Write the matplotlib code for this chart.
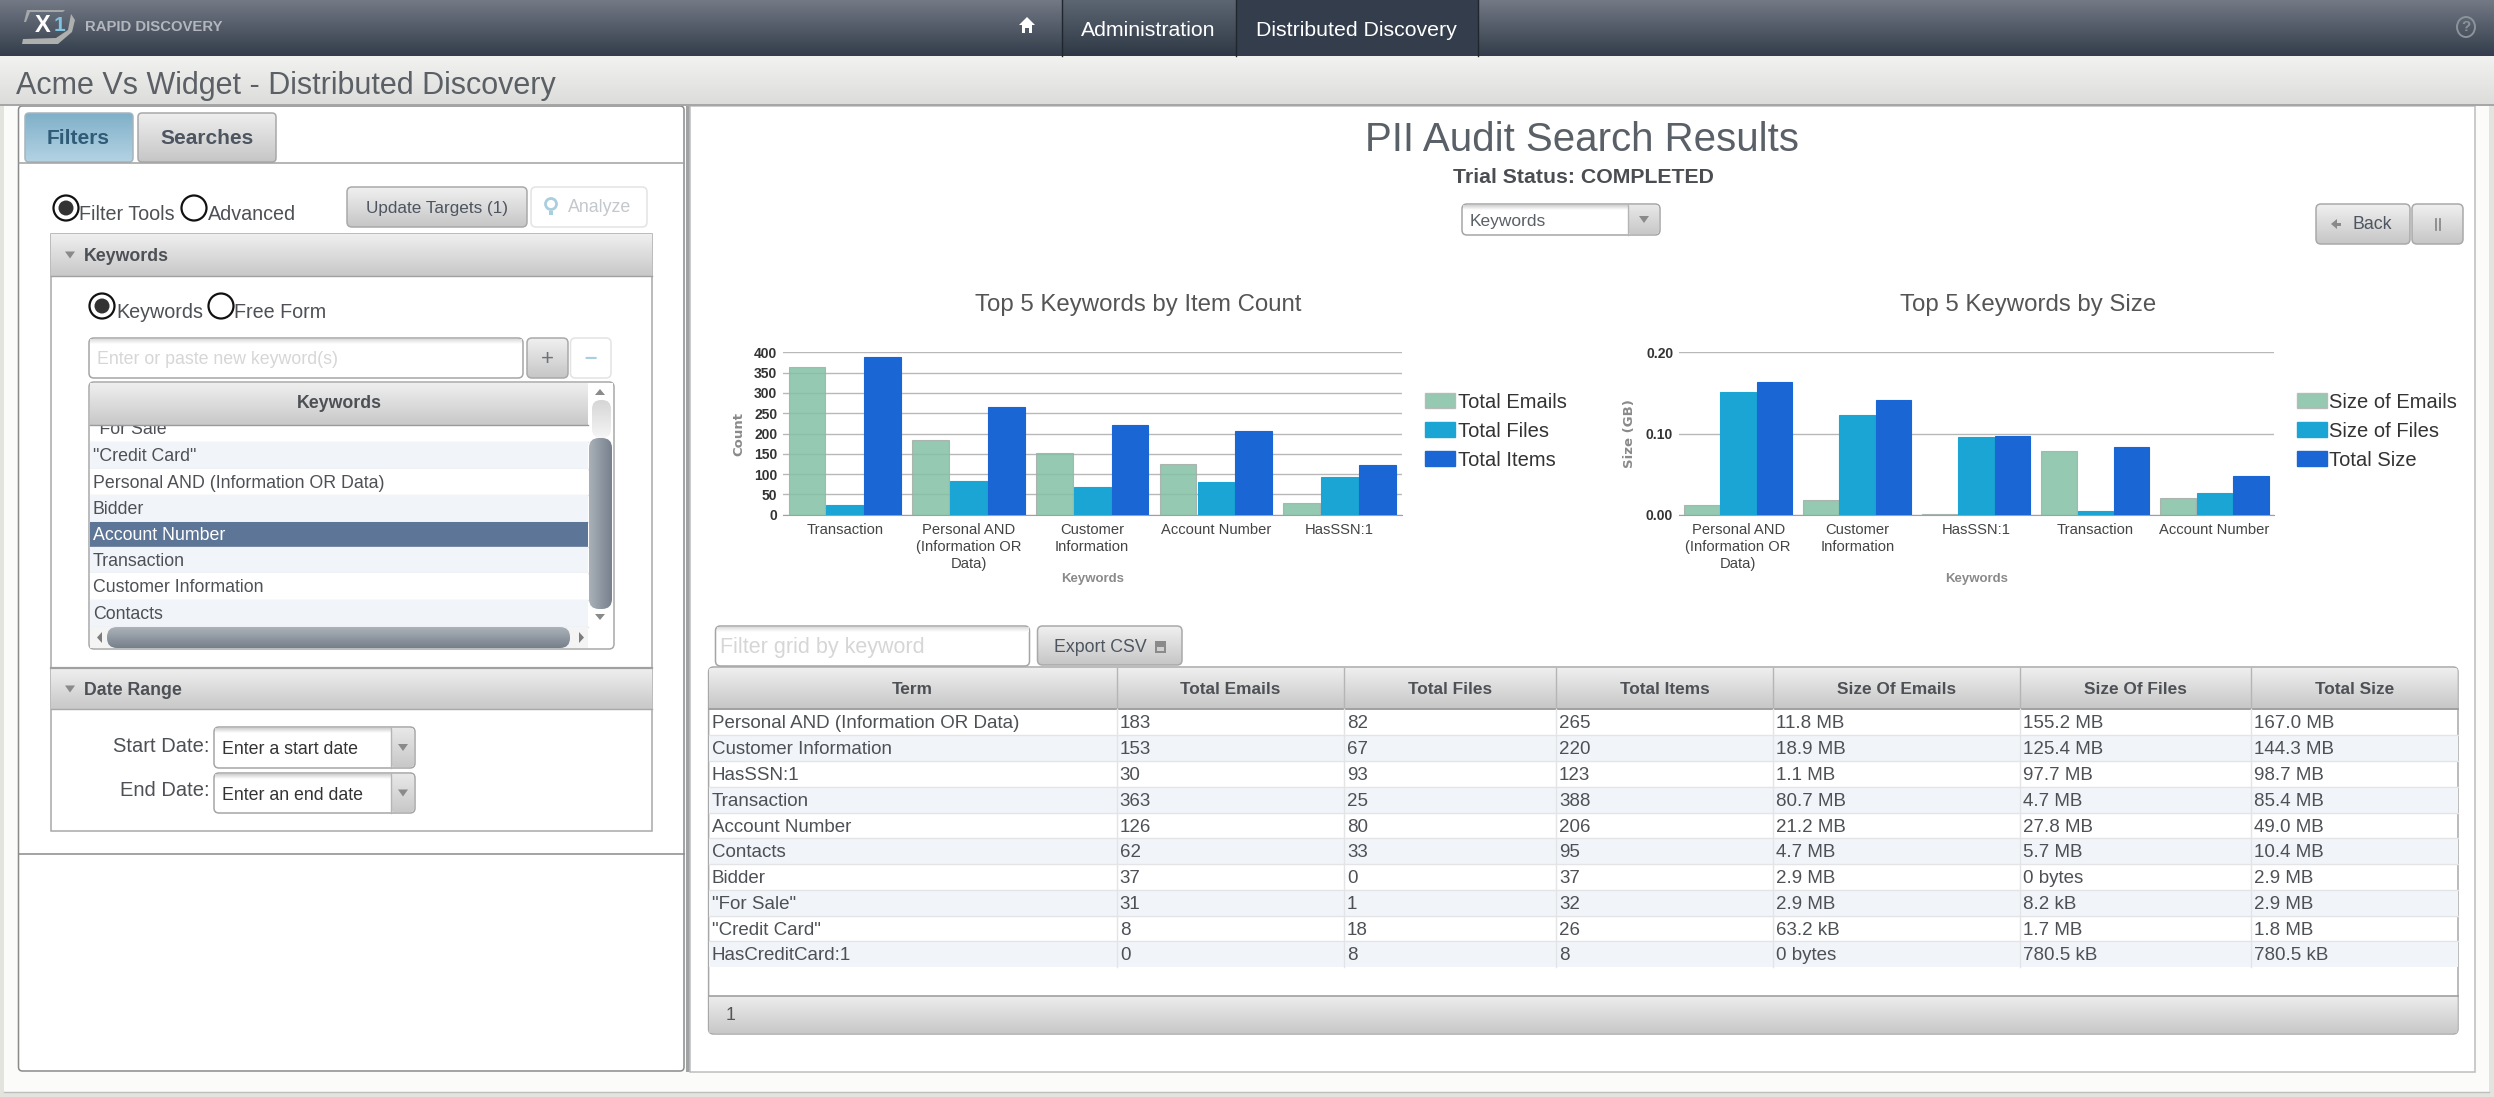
import numpy as np
import matplotlib
matplotlib.use('Agg')
import matplotlib.pyplot as plt
from matplotlib.patches import FancyBboxPatch, Rectangle, Circle, Polygon, Ellipse

plt.rcParams['font.family'] = ['Liberation Sans', 'DejaVu Sans']

W, H = 2494, 1097

# chart data
count_terms = ['Transaction', 'Personal AND\n(Information OR\nData)', 'Customer\nInformation',
               'Account Number', 'HasSSN:1']
count_emails = [363, 183, 153, 126, 30]
count_files = [25, 82, 67, 80, 93]
count_items = [388, 265, 220, 206, 123]

size_terms = ['Personal AND\n(Information OR\nData)', 'Customer\nInformation', 'HasSSN:1',
              'Transaction', 'Account Number']
size_emails = [0.0115, 0.0185, 0.0011, 0.0788, 0.0207]
size_files = [0.1516, 0.1225, 0.0954, 0.0046, 0.0271]
size_total = [0.1631, 0.1409, 0.0964, 0.0834, 0.0479]

# grid data
grid_headers = ['Term', 'Total Emails', 'Total Files', 'Total Items',
                'Size Of Emails', 'Size Of Files', 'Total Size']
grid_terms = ['Personal AND (Information OR Data)', 'Customer Information', 'HasSSN:1', 'Transaction',
              'Account Number', 'Contacts', 'Bidder', '"For Sale"', '"Credit Card"', 'HasCreditCard:1']
grid_emails = [183, 153, 30, 363, 126, 62, 37, 31, 8, 0]
grid_files = [82, 67, 93, 25, 80, 33, 0, 1, 18, 8]
grid_items = [265, 220, 123, 388, 206, 95, 37, 32, 26, 8]
grid_size_emails = ['11.8 MB', '18.9 MB', '1.1 MB', '80.7 MB', '21.2 MB', '4.7 MB', '2.9 MB', '2.9 MB',
                    '63.2 kB', '0 bytes']
grid_size_files = ['155.2 MB', '125.4 MB', '97.7 MB', '4.7 MB', '27.8 MB', '5.7 MB', '0 bytes', '8.2 kB',
                   '1.7 MB', '780.5 kB']
grid_size_total = ['167.0 MB', '144.3 MB', '98.7 MB', '85.4 MB', '49.0 MB', '10.4 MB', '2.9 MB', '2.9 MB',
                   '1.8 MB', '780.5 kB']

keyword_rows = ['"For Sale"', '"Credit Card"', 'Personal AND (Information OR Data)', 'Bidder',
                'Account Number', 'Transaction', 'Customer Information', 'Contacts']

GREEN = '#84c1a5'
BLUE = '#1aa5d4'
DARK = '#1a66d4'
BTN = ('#f0f0f0', '#c6c6c6')

fig = plt.figure(figsize=(W / 100, H / 100), dpi=100, facecolor='#fbfbfa')
ui = fig.add_axes([0, 0, 1, 1])
ui.set_autoscale_on(False)
ui.set_xlim(0, W)
ui.set_ylim(H, 0)
ui.axis('off')


def to_rgb(c):
    return np.array(matplotlib.colors.to_rgb(c))


def grad(x0, y0, x1, y1, top, bottom, r=0, z=1):
    g = np.linspace(0, 1, 64)[:, None, None]
    img = (1 - g) * to_rgb(top)[None, None, :] + g * to_rgb(bottom)[None, None, :]
    im = ui.imshow(img, extent=(x0, x1, y1, y0), aspect='auto', zorder=z, interpolation='bilinear')
    if r:
        clip = FancyBboxPatch((x0, y0), x1 - x0, y1 - y0, boxstyle='round,pad=0,rounding_size=%g' % r,
                              transform=ui.transData, fc='none', ec='none')
        ui.add_patch(clip)
        im.set_clip_path(clip)
    return im


def box(x0, y0, x1, y1, fc='none', ec='#a8a8a8', r=0, lw=1.1, z=2):
    if r:
        p = FancyBboxPatch((x0, y0), x1 - x0, y1 - y0, boxstyle='round,pad=0,rounding_size=%g' % r,
                           fc=fc, ec=ec, lw=lw, zorder=z)
    else:
        p = Rectangle((x0, y0), x1 - x0, y1 - y0, fc=fc, ec=ec, lw=lw, zorder=z)
    ui.add_patch(p)


def label(x, y, s, size=13.5, color='#4d5156', weight='normal', ha='left', **kw):
    # va center sits a bit high against the browser text
    ui.text(x, y + 1.3, s, fontsize=size, color=color, fontweight=weight, ha=ha, va='center', zorder=5, **kw)


def tri(cx, cy, w, h, color='#8a8a8a', up=False, z=5):
    s = -1 if up else 1
    ui.add_patch(Polygon([(cx - w / 2, cy - s * h / 2), (cx + w / 2, cy - s * h / 2), (cx, cy + s * h / 2)],
                         fc=color, ec='none', zorder=z))


def button(x0, y0, x1, y1, text=None, size=12.5, color='#4d5560'):
    grad(x0, y0, x1, y1, *BTN, r=5, z=2)
    box(x0, y0, x1, y1, ec='#a9a9a9', r=5, z=3)
    if text:
        label((x0 + x1) / 2, (y0 + y1) / 2, text, size=size, color=color, ha='center')


def radio(cx, cy, on):
    ui.add_patch(Ellipse((cx, cy), 25, 25, fc='white', ec='#111111', lw=1.6, zorder=4))
    if on:
        ui.add_patch(Circle((cx, cy), 7.5, fc='#333333', ec='none', zorder=5))


def text_input(x0, y0, x1, y1, placeholder, size=12.5, tx=None):
    box(x0, y0, x1, y1, fc='white', ec='#a5a5a5', r=5, z=2)
    grad(x0 + 1, y0 + 1, x1 - 1, y0 + 6, '#dcdcdc', '#ffffff', z=3)
    label(tx if tx else x0 + 8, (y0 + y1) / 2, placeholder, size=size, color='#d6d6d6')


def combo(x0, y0, x1, y1, split, text, size=12, color='#333333'):
    box(x0, y0, x1, y1, fc='white', ec='#a5a5a5', r=5, z=2)
    grad(x0 + 1, y0 + 1, split, y0 + 6, '#d0d0d0', '#ffffff', z=3)
    grad(split, y0 + 1, x1 - 1, y1 - 1, '#e8e8e8', '#c8c8c8', r=3, z=3)
    ui.plot([split, split], [y0, y1], color='#b5b5b5', lw=1, zorder=4)
    tri((split + x1) / 2, (y0 + y1) / 2, 10, 7)
    label(x0 + 8, (y0 + y1) / 2 + 1, text, size=size, color=color)


# page frame
ui.add_patch(Rectangle((0, 0), 4, H, fc='#e4e4df', ec='none', zorder=0))
ui.add_patch(Rectangle((2489, 0), 5, H, fc='#e4e4df', ec='none', zorder=0))
ui.add_patch(Rectangle((0, 1092), W, 5, fc='#e4e4df', ec='none', zorder=0))
ui.plot([4, 2489], [1092, 1092], color='#bdbdbd', lw=1, zorder=1)
grad(0, 56, W, 105, '#f2f2f0', '#dcdcda')
ui.plot([0, W], [105, 105], color='#a5a5a5', lw=1.4, zorder=2)

# header
grad(0, 0, W, 56, '#737985', '#333d4b', z=1)
grad(1062, 0, 1236, 56, '#5c6572', '#2f3845', z=2)
ui.add_patch(Rectangle((1236, 0), 242, 56, fc='#333d4b', ec='none', zorder=2))
for x in [1062, 1236, 1478]:
    ui.plot([x, x], [0, 56], color='#20262e', lw=1, zorder=3)
label(1148, 29, 'Administration', size=15.3, color='white', ha='center')
label(1356, 29, 'Distributed Discovery', size=15.3, color='white', ha='center')
ui.add_patch(Polygon([(1019, 25), (1027, 17), (1035, 25), (1032, 25), (1032, 33), (1029, 33), (1029, 28),
                      (1025, 28), (1025, 33), (1022, 33), (1022, 25)], fc='white', ec='none', zorder=5))
ui.add_patch(Ellipse((2466, 27), 18, 20, fc='none', ec='#8d939b', lw=1.4, zorder=5))
label(2466, 26, '?', size=11, color='#8d939b', ha='center', weight='bold')

# logo
ui.add_patch(Polygon([(27, 10), (65, 10), (63, 12), (30, 12), (26, 22), (24, 22)], fc='#a5a8a8', ec='none', zorder=3))
ui.add_patch(Polygon([(71, 14), (75, 20), (72, 32), (58, 44), (22, 44), (23, 39), (56, 38), (68, 30)],
                     fc='#aeb0ae', ec='none', zorder=3))
label(35, 24, 'X', size=17, color='white', weight='bold')
label(54, 24, '1', size=15, color='#7fc4e0', weight='bold')
label(85, 26, 'RAPID DISCOVERY', size=10.7, color='#b3b7bd', weight='bold')

label(16, 85, 'Acme Vs Widget - Distributed Discovery', size=22, color='#5b6066')

# panels
box(18.5, 106, 684, 1071, fc='white', ec='#8a8a8a', r=4, z=1)
ui.plot([19, 684], [854, 854], color='#8a8a8a', lw=1.1, zorder=2)
ui.add_patch(Rectangle((686, 106), 4, 966, fc='#9fa3a3', ec='none', zorder=1))
box(690, 106, 2475, 1072, fc='white', ec='#bdbdbd', z=1)

# left tabs
grad(25, 113, 133, 162, '#7fb0c9', '#b4d3e3', r=4)
box(25, 113, 133, 162, ec='#a5b5bd', r=4)
label(78.5, 137, 'Filters', size=15, color='#2f5b78', weight='bold', ha='center')
grad(138, 113, 276, 162, '#eeeeee', '#c6c6c6', r=4)
box(138, 113, 276, 162, r=4)
label(207, 137, 'Searches', size=15, color='#4d5560', weight='bold', ha='center')
ui.plot([19, 684], [162.5, 162.5], color='#a0a0a0', lw=1.1, zorder=3)

radio(66, 208, True)
label(79, 213, 'Filter Tools', size=14.2, color='#4d5156')
radio(194, 208, False)
label(208, 213, 'Advanced', size=14.2, color='#4d5156')
button(347, 187, 527, 227, 'Update Targets (1)', size=12.3)
box(531, 187, 647, 227, ec='#e3e3e3', fc='white', r=5)
ui.add_patch(Circle((551, 204), 5.5, fc='none', ec='#a9cfdf', lw=2, zorder=4))
ui.add_patch(Rectangle((549, 211), 4, 4, fc='#a9cfdf', ec='none', zorder=4))
label(568, 206, 'Analyze', size=12.8, color='#c3c8cc')

# keywords accordion
box(50.5, 234, 652, 668, fc='white', ec='#a8a8a8', z=1)
grad(51, 234, 652, 276, '#efefef', '#c8c8c8')
ui.plot([51, 652], [276, 276], color='#a0a0a0', lw=1, zorder=3)
tri(70, 255, 10, 7)
label(84, 255, 'Keywords', size=12.8, color='#4d5156', weight='bold')
radio(102, 306, True)
label(116, 311, 'Keywords', size=14.2, color='#4d5156')
radio(221, 306, False)
label(234, 311, 'Free Form', size=14.2, color='#4d5156')
text_input(89, 338, 523, 378, 'Enter or paste new keyword(s)', size=12.8)
button(527, 338, 568, 378, '+', size=16, color='#6d7277')
box(570.5, 338, 611, 378, ec='#e3e3e3', fc='white', r=5)
label(590.5, 357, '\u2013', size=16, color='#a9cfdf', ha='center', weight='bold')

# keyword list
box(89, 382, 614, 649, fc='white', ec='#a8a8a8', r=5, z=2)
row_edges = [425, 442, 469, 495, 522, 547, 573, 600, 627]
row_fill = ['#ffffff', '#f1f5f9', '#ffffff', '#f1f5f9', '#5d7596', '#f1f5f9', '#ffffff', '#f1f5f9']
for i, term in enumerate(keyword_rows):
    y0, y1 = row_edges[i], row_edges[i + 1]
    ui.add_patch(Rectangle((90, y0), 498, y1 - y0, fc=row_fill[i], ec='none', zorder=3))
    ui.plot([90, 588], [y1, y1], color='#e2e4e6', lw=1, zorder=3)
    c = 'white' if i == 4 else '#4d5156'
    if i == 0:
        # first row is scrolled half out of view under the header
        ui.text(93, 429, term, fontsize=12.8, color=c, va='center', zorder=3.5)
    else:
        label(93, (y0 + y1) / 2, term, size=12.8, color=c)
grad(90, 383, 588, 425, '#efefef', '#c8c8c8', z=4)
ui.plot([90, 588], [425, 425], color='#9a9a9a', lw=1, zorder=4)
label(339, 402, 'Keywords', size=12.8, color='#4d5156', weight='bold', ha='center')

# scrollbars
grad(589, 383, 613, 438, '#ffffff', '#ffffff', z=3)
grad(592, 400, 611, 438, '#d6d6d6', '#f5f5f5', r=9, z=3)
im = ui.imshow(np.linspace(0, 1, 32)[None, :, None] * (to_rgb('#77818d') - to_rgb('#a9b0b8'))[None, None, :]
               + to_rgb('#a9b0b8')[None, None, :], extent=(589, 612, 609, 438), aspect='auto', zorder=3)
clip = FancyBboxPatch((589, 438), 23, 171, boxstyle='round,pad=0,rounding_size=10', transform=ui.transData,
                      fc='none', ec='none')
ui.add_patch(clip)
im.set_clip_path(clip)
tri(600, 392, 10, 6, up=True)
tri(600, 617, 10, 6)
grad(90, 627, 588, 648, '#f4f4f4', '#f4f4f4', z=3)
grad(107, 627, 570, 648, '#abb2b9', '#76808c', r=10, z=4)
ui.add_patch(Polygon([(102, 632), (102, 643), (97, 637.5)], fc='#7c7c7c', ec='none', zorder=5))
ui.add_patch(Polygon([(579, 632), (579, 643), (584, 637.5)], fc='#7c7c7c', ec='none', zorder=5))

# date range accordion
box(50.5, 668, 652, 831, fc='white', ec='#a8a8a8', z=1)
grad(51, 668, 652, 709, '#efefef', '#c8c8c8')
ui.plot([51, 652], [668, 668], color='#a0a0a0', lw=1.6, zorder=3)
ui.plot([51, 652], [709, 709], color='#a8a8a8', lw=1, zorder=3)
tri(70, 689, 10, 7)
label(84, 689, 'Date Range', size=12.8, color='#4d5156', weight='bold')
label(209.5, 745, 'Start Date:', size=14.5, color='#4d5156', ha='right')
label(209.5, 789, 'End Date:', size=14.5, color='#4d5156', ha='right')
combo(214, 727, 415, 768, 391, 'Enter a start date', size=12.8)
combo(214, 773, 415, 813, 391, 'Enter an end date', size=12.8)

# right side headings
label(1582, 139, 'PII Audit Search Results', size=29, color='#5a6068', ha='center')
label(1583, 176, 'Trial Status: COMPLETED', size=15.3, color='#4a4d52', weight='bold', ha='center')
combo(1462, 204, 1660, 235, 1628, 'Keywords', size=12.5, color='#5a6068')
button(2316, 204, 2410, 244)
ui.add_patch(Polygon([(2331, 224), (2337, 219), (2337, 229)], fc='#8a8a8a', ec='none', zorder=5))
ui.add_patch(Rectangle((2336, 222.5), 5, 3, fc='#8a8a8a', ec='none', zorder=5))
label(2372, 223, 'Back', size=12.8, color='#4d5560', ha='center')
button(2412, 204, 2463, 244)
for x in [2435.5, 2439.5]:
    ui.plot([x, x], [219, 230], color='#8a8a8a', lw=1.3, zorder=5)


def bar_chart(px, terms, series, colors, names, ymax, ticks, tick_fmt, ylabel, title, title_x,
              leg_x, leg_text_x, bar_w, step, label_x):
    ax = fig.add_axes([px[0] / W, 1 - px[3] / H, (px[1] - px[0]) / W, (px[3] - px[2]) / H])
    ax.patch.set_alpha(0)
    x = np.arange(len(terms))
    for i, (vals, c) in enumerate(zip(series, colors)):
        alpha = 0.86 if i == 0 else 1
        ec = '#a5aeaa' if i == 0 else c
        ax.bar(x + (i - 1) * step, vals, bar_w, color=c, alpha=alpha, edgecolor=ec, linewidth=0.8, zorder=3)
    ax.set_xlim(-0.5, len(terms) - 0.5)
    ax.set_ylim(0, ymax)
    ax.set_yticks(ticks)
    ax.set_yticklabels([tick_fmt % t for t in ticks], fontsize=10, fontweight='bold', color='#333333')
    ax.set_xticks(x)
    ax.set_xticklabels(terms, fontsize=10.6, color='#444444', linespacing=1.26)
    ax.tick_params(axis='both', length=0)
    ax.tick_params(axis='y', pad=4)
    ax.tick_params(axis='x', pad=6)
    ax.grid(axis='y', color='#b8b8b8', lw=1)
    ax.set_axisbelow(True)
    for s in ['top', 'right', 'left']:
        ax.spines[s].set_visible(False)
    ax.spines['bottom'].set_color('#a0a0a0')
    ax.set_xlabel('Keywords', fontsize=9.5, fontweight='bold', color='#8a8a8a')
    ax.xaxis.set_label_coords(0.5, -0.396)
    ax.xaxis.label.set_va('center')
    ax.set_ylabel(ylabel, fontsize=9.5, fontweight='bold', color='#8a8a8a', family='DejaVu Sans')
    ax.yaxis.set_label_coords(label_x, 0.5)
    ax.yaxis.label.set_va('center')
    label(title_x, 304, title, size=17.3, color='#555555', ha='center')
    for i, (name, c) in enumerate(zip(names, colors)):
        y = 393 + i * 29
        ui.add_patch(Rectangle((leg_x, y), 30, 14.5, fc=c, alpha=0.86 if i == 0 else 1,
                               ec='#b5b5b5' if i == 0 else c, lw=1, zorder=3))
        label(leg_text_x, y + 8.5, name, size=14.5, color='#333333')
    return ax


bar_chart((783, 1401.5, 352.3, 514.7), count_terms, [count_emails, count_files, count_items],
          [GREEN, BLUE, DARK], ['Total Emails', 'Total Files', 'Total Items'], 400,
          list(range(0, 401, 50)), '%d', 'Count', 'Top 5 Keywords by Item Count', 1138,
          1424.5, 1458, 0.297, 0.306, -0.071)
bar_chart((1678.7, 2274, 352.3, 514.7), size_terms, [size_emails, size_files, size_total],
          [GREEN, BLUE, DARK], ['Size of Emails', 'Size of Files', 'Total Size'], 0.20,
          [0.0, 0.1, 0.2], '%.2f', 'Size (GB)', 'Top 5 Keywords by Size', 2028,
          2297, 2329, 0.30, 0.304, -0.082)

# grid toolbar
text_input(715.5, 626, 1029.5, 666, 'Filter grid by keyword', size=15.5, tx=720)
button(1037.5, 626, 1182, 665)
label(1100, 646, 'Export CSV', size=12.8, color='#4d5560', ha='center')
ui.add_patch(Rectangle((1155, 641), 11, 12, fc='#8a8a8a', ec='none', zorder=5))
ui.add_patch(Rectangle((1157, 647), 7, 4, fc='#d0d0d0', ec='none', zorder=6))

# grid
col_x = [708.6, 1116.8, 1344, 1556, 1773.3, 2020, 2251, 2458]
grid_rows = [709, 735.3, 761.3, 787.3, 813.3, 838.3, 864.3, 890.3, 916.3, 941.3, 967]
box(708.6, 667, 2458, 1034, fc='white', ec='#a8a8a8', r=5, z=1)
grad(709, 668, 2457.5, 709, '#efefef', '#c6c6c6', r=2)
ui.plot([709, 2458], [709, 709], color='#a0a0a0', lw=1.4, zorder=3)
grad(709, 996, 2457.5, 1033.5, '#eeeeee', '#c8c8c8', r=2)
ui.plot([709, 2458], [996, 996], color='#a0a0a0', lw=1.2, zorder=3)
label(726, 1014, '1', size=12.8, color='#555555')

columns = [grid_terms, grid_emails, grid_files, grid_items, grid_size_emails, grid_size_files, grid_size_total]
for r in range(len(grid_terms)):
    y0, y1 = grid_rows[r], grid_rows[r + 1]
    if r % 2:
        ui.add_patch(Rectangle((709, y0), 1749, y1 - y0, fc='#f1f5f9', ec='none', zorder=2))
    if r < len(grid_terms) - 1:
        ui.plot([709, 2458], [y1, y1], color='#e2e4e6', lw=1, zorder=3)
    for c, col in enumerate(columns):
        label(col_x[c] + 3, (y0 + y1) / 2, str(col[r]), size=13.5, color='#4d5156')
for c, head in enumerate(grid_headers):
    label((col_x[c] + col_x[c + 1]) / 2, 688, head, size=12.4, color='#4d5156', weight='bold', ha='center')
    if c:
        ui.plot([col_x[c], col_x[c]], [668, 709], color='#b5b5b5', lw=1, zorder=3)
        ui.plot([col_x[c], col_x[c]], [709, 967], color='#e2e4e6', lw=1, zorder=3)

fig.savefig('out.png', dpi=100, facecolor=fig.get_facecolor())
